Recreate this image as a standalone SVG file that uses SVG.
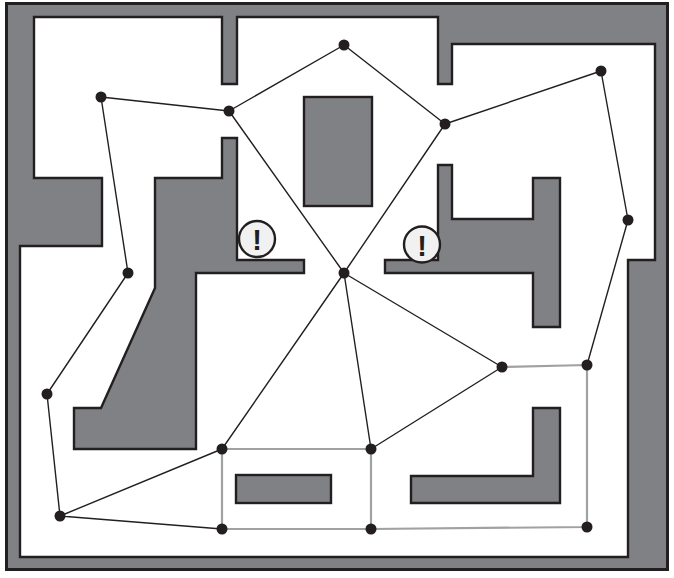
<svg xmlns="http://www.w3.org/2000/svg" width="674" height="578" viewBox="0 0 674 578">
<style>
.wall{fill:#808184;stroke:#231f20;stroke-width:2.4;stroke-linejoin:miter}
.open{fill:#fff;stroke:#231f20;stroke-width:2.4}
.e{stroke:#231f20;stroke-width:1.4;fill:none}
.g{stroke:#a0a1a4;stroke-width:2.2;fill:none}
.n{fill:#231f20}
.w{fill:#f1f1f2;stroke:#231f20;stroke-width:2.4}
.t{font-family:"Liberation Sans",Arial,sans-serif;font-weight:bold;font-size:29px;fill:#231f20;text-anchor:middle}
</style>
<rect width="674" height="578" fill="#fff"/>
<g id="floor-plan">
<rect class="wall" x="6.500" y="3.500" width="661" height="566" style="stroke-width:3"/>
<path class="open" d="M34 17H222V84H237V17H438V84H452V44H655V260H628V557H20V246H102V178H34Z"/>
<rect class="wall" x="304" y="97" width="68" height="109"/>
<path class="wall" d="M222 138H237V260H304V273H196V449H74V408H101L155 288V178H222Z"/>
<path class="wall" d="M438 165H452V219H533V178H560V327H533V273H385V260H438Z"/>
<rect class="wall" x="236" y="475" width="95" height="28"/>
<path class="wall" d="M411 503V476H533V408H560V503Z"/>
</g>
<g id="connectors">
<path class="g" d="M222 449H371M222 449V529M371 449V529M222 529H371M371 529L587 527M587 527V365M502 367L587 365"/>
<path class="e" d="M344 45L229 111M344 45L445 124M229 111L101 97M101 97L128 273M128 273L47 394M47 394L60 516M60 516L222 449M60 516L222 529M229 111L344 273M445 124L344 273M445 124L601 71M601 71L628 220M628 220L587 365M344 273L222 449M344 273L371 449M344 273L502 367M371 449L502 367"/>
</g>
<g id="warning-1"><circle class="w" cx="257" cy="239" r="18"/><text class="t" x="257" y="250">!</text></g>
<g id="warning-2"><circle class="w" cx="422" cy="244.500" r="18"/><text class="t" x="422" y="255.500">!</text></g>
<g id="n1"><circle class="n" cx="344" cy="45" r="5.500"/></g>
<g id="n2"><circle class="n" cx="229" cy="111" r="5.500"/></g>
<g id="n3"><circle class="n" cx="445" cy="124" r="5.500"/></g>
<g id="n4"><circle class="n" cx="101" cy="97" r="5.500"/></g>
<g id="n5"><circle class="n" cx="601" cy="71" r="5.500"/></g>
<g id="n6"><circle class="n" cx="628" cy="220" r="5.500"/></g>
<g id="n7"><circle class="n" cx="128" cy="273" r="5.500"/></g>
<g id="n8"><circle class="n" cx="344" cy="273" r="5.500"/></g>
<g id="n9"><circle class="n" cx="47" cy="394" r="5.500"/></g>
<g id="n10"><circle class="n" cx="502" cy="367" r="5.500"/></g>
<g id="n11"><circle class="n" cx="587" cy="365" r="5.500"/></g>
<g id="n12"><circle class="n" cx="222" cy="449" r="5.500"/></g>
<g id="n13"><circle class="n" cx="371" cy="449" r="5.500"/></g>
<g id="n14"><circle class="n" cx="60" cy="516" r="5.500"/></g>
<g id="n15"><circle class="n" cx="222" cy="529" r="5.500"/></g>
<g id="n16"><circle class="n" cx="371" cy="529" r="5.500"/></g>
<g id="n17"><circle class="n" cx="587" cy="527" r="5.500"/></g>
</svg>
